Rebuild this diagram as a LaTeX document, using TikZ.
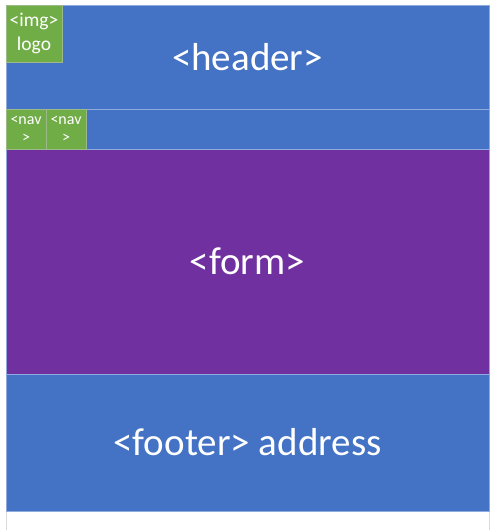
\documentclass[tikz,border=0pt]{standalone}
\usepackage{fontspec}
\setmainfont{Carlito}
\definecolor{bblue}{HTML}{4472C4}
\definecolor{bpurple}{HTML}{7030A0}
\definecolor{bgreen}{HTML}{70AD47}
\definecolor{lblue}{HTML}{8FAADC}
\definecolor{lgreen}{HTML}{A9D18E}
\definecolor{lgray}{HTML}{D9D9D9}
\tikzset{
  area/.style={draw=lblue, line width=0.8pt, text=white, inner sep=0pt, outer sep=0pt, anchor=north west, align=center, font=\fontsize{39}{45}\selectfont},
  tag/.style={draw=lgreen!70!gray, line width=0.6pt, fill=bgreen, text=white, inner sep=0pt, outer sep=0pt, anchor=north west, align=center},
}
\begin{document}
\begin{tikzpicture}[x=1pt,y=1pt]
\useasboundingbox[fill=white] (0,0) rectangle (497,530);
\draw[lgray, line width=0.6pt] (6,19) -- (6,0) (489,19) -- (489,0);
\node[area, fill=bblue, minimum width=483pt, minimum height=104pt] (header) at (6,525) {<header>};
\node[area, fill=bblue, minimum width=483pt, minimum height=40pt] (navrow) at (6,421) {};
\node[area, fill=bpurple, minimum width=483pt, minimum height=225pt] (form) at (6,381) {<form>};
\node[area, fill=bblue, minimum width=483pt, minimum height=137pt] (footer) at (6,156) {<footer> address};
\node[tag, minimum width=56pt, minimum height=57pt, font=\fontsize{19.5}{24}\selectfont] (img) at (6,525) {<img>\\logo};
\node[tag, minimum width=40pt, minimum height=40pt, font=\fontsize{16}{18}\selectfont] (nav1) at (6,421) {<nav\\>};
\node[tag, minimum width=40pt, minimum height=40pt, font=\fontsize{16}{18}\selectfont] (nav2) at (46,421) {<nav\\>};
\end{tikzpicture}
\end{document}
